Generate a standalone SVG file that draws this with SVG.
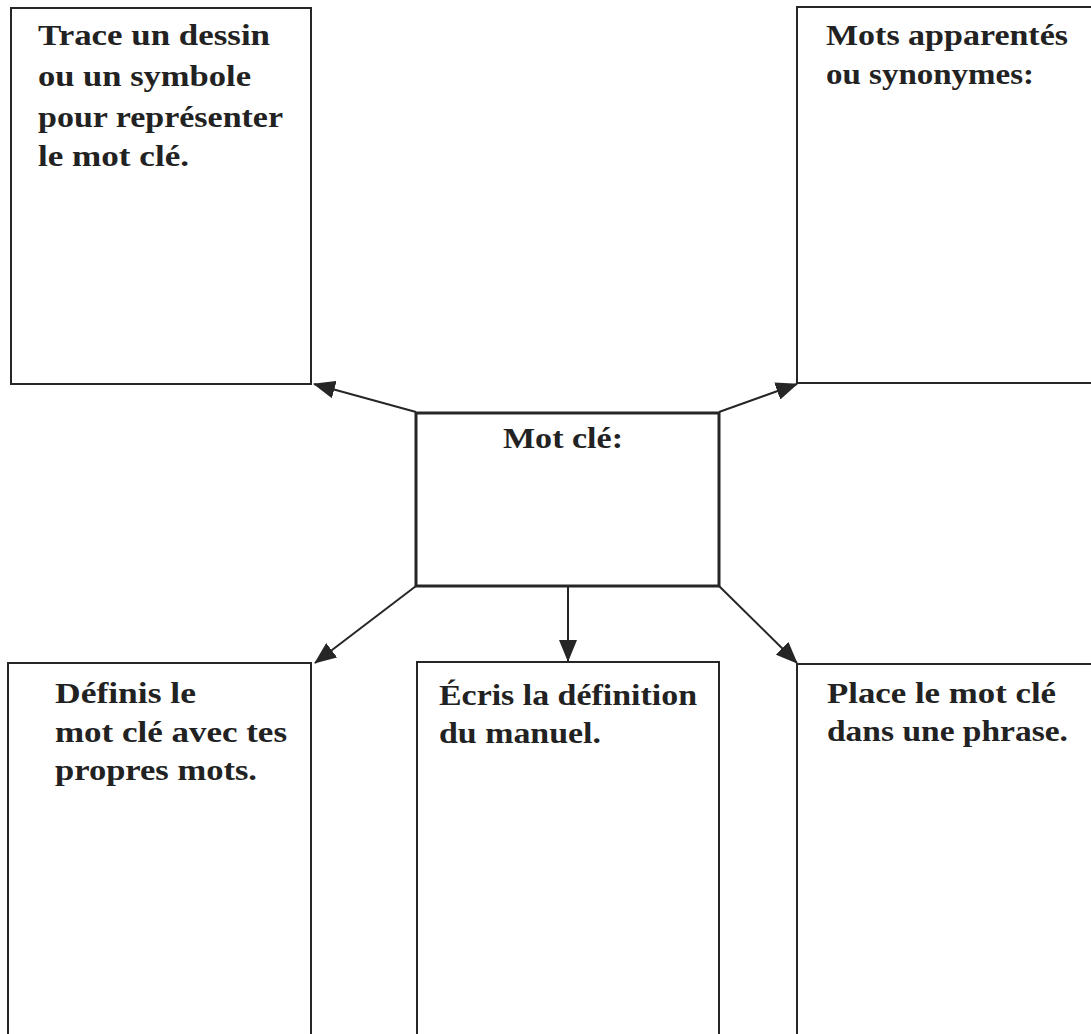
<svg xmlns="http://www.w3.org/2000/svg" width="1091" height="1034" viewBox="0 0 1091 1034">
<style>
.box{fill:#fff;stroke:#262626;stroke-width:2}
.center{fill:#fff;stroke:#262626;stroke-width:3}
.t{font-family:"Liberation Serif","Times New Roman",serif;font-weight:bold;font-size:29px;fill:#222}
.conn{stroke:#262626;stroke-width:2;fill:none;marker-end:url(#ah)}
</style>
<defs>
<marker id="ah" markerUnits="userSpaceOnUse" markerWidth="22" markerHeight="18" refX="21" refY="9" orient="auto">
<path d="M0,0 L22,9 L0,18 Z" fill="#262626"/>
</marker>
</defs>
<rect width="1091" height="1034" fill="#fff"/>
<g id="connectors">
<line class="conn" x1="416" y1="412" x2="314" y2="384"/>
<line class="conn" x1="719" y1="412" x2="797" y2="384"/>
<line class="conn" x1="416" y1="586" x2="315" y2="663"/>
<line class="conn" x1="568" y1="586" x2="568" y2="661"/>
<line class="conn" x1="719" y1="586" x2="797" y2="663"/>
</g>
<g id="node-dessin">
<rect class="box" x="11" y="8" width="300" height="376"/>
<text class="t" x="38" y="45" textLength="232" lengthAdjust="spacingAndGlyphs">Trace un dessin</text>
<text class="t" x="38" y="86" textLength="213" lengthAdjust="spacingAndGlyphs">ou un symbole</text>
<text class="t" x="38" y="127" textLength="245" lengthAdjust="spacingAndGlyphs">pour représenter</text>
<text class="t" x="38" y="166" textLength="151" lengthAdjust="spacingAndGlyphs">le mot clé.</text>
</g>
<g id="node-synonymes">
<rect class="box" x="797" y="7" width="300" height="376"/>
<text class="t" x="826" y="45" textLength="242" lengthAdjust="spacingAndGlyphs">Mots apparentés</text>
<text class="t" x="826" y="84" textLength="208" lengthAdjust="spacingAndGlyphs">ou synonymes:</text>
</g>
<g id="node-motcle">
<rect class="center" x="416" y="413" width="303" height="173"/>
<text class="t" x="503" y="448" textLength="120" lengthAdjust="spacingAndGlyphs">Mot clé:</text>
</g>
<g id="node-definis">
<rect class="box" x="8" y="663" width="303" height="380"/>
<text class="t" x="55" y="703" textLength="141" lengthAdjust="spacingAndGlyphs">Définis le</text>
<text class="t" x="55" y="742" textLength="232" lengthAdjust="spacingAndGlyphs">mot clé avec tes</text>
<text class="t" x="55" y="780" textLength="202" lengthAdjust="spacingAndGlyphs">propres mots.</text>
</g>
<g id="node-manuel">
<rect class="box" x="417" y="662" width="302" height="380"/>
<text class="t" x="439" y="705" textLength="258" lengthAdjust="spacingAndGlyphs">Écris la définition</text>
<text class="t" x="439" y="743" textLength="162" lengthAdjust="spacingAndGlyphs">du manuel.</text>
</g>
<g id="node-phrase">
<rect class="box" x="797" y="664" width="300" height="380"/>
<text class="t" x="827" y="703" textLength="229" lengthAdjust="spacingAndGlyphs">Place le mot clé</text>
<text class="t" x="827" y="741" textLength="241" lengthAdjust="spacingAndGlyphs">dans une phrase.</text>
</g>
</svg>
